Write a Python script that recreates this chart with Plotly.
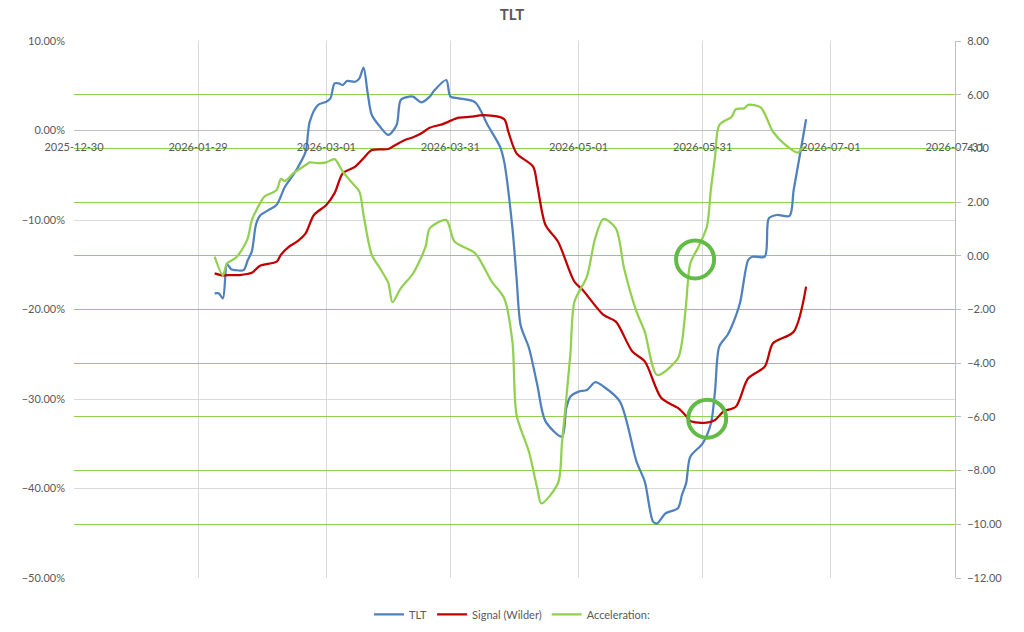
import plotly.graph_objects as go

# ---------------- data ----------------
tlt_dates = ["2026-02-02", "2026-02-03", "2026-02-04", "2026-02-05", "2026-02-06", "2026-02-07",
             "2026-02-09", "2026-02-10", "2026-02-11", "2026-02-12", "2026-02-13", "2026-02-15",
             "2026-02-17", "2026-02-19", "2026-02-21", "2026-02-22", "2026-02-24", "2026-02-25",
             "2026-02-27", "2026-03-01", "2026-03-02", "2026-03-03", "2026-03-04", "2026-03-05",
             "2026-03-06", "2026-03-08", "2026-03-09", "2026-03-10", "2026-03-11", "2026-03-12",
             "2026-03-14", "2026-03-16", "2026-03-18", "2026-03-19", "2026-03-21", "2026-03-22",
             "2026-03-24", "2026-03-26", "2026-03-27", "2026-03-30", "2026-03-31", "2026-04-02",
             "2026-04-06", "2026-04-09", "2026-04-12", "2026-04-13", "2026-04-15", "2026-04-16",
             "2026-04-17", "2026-04-19", "2026-04-21", "2026-04-23", "2026-04-27", "2026-04-28",
             "2026-04-29", "2026-05-01", "2026-05-03", "2026-05-05", "2026-05-07", "2026-05-11",
             "2026-05-15", "2026-05-17", "2026-05-19", "2026-05-20", "2026-05-22", "2026-05-25",
             "2026-05-26", "2026-05-27", "2026-05-28", "2026-05-31", "2026-06-02", "2026-06-03",
             "2026-06-04", "2026-06-06", "2026-06-07", "2026-06-09", "2026-06-11", "2026-06-12",
             "2026-06-15", "2026-06-16", "2026-06-18", "2026-06-21", "2026-06-22", "2026-06-24",
             "2026-06-25"]
tlt_values = [-18.2, -18.2, -18.75, -14.95, -15.5, -15.6,
              -15.6, -14.5, -13.5, -10.5, -9.5, -8.9,
              -8.3, -6.28, -4.97, -4.22, -2.36, 1.0,
              2.85, 3.22, 3.6, 5.27, 5.27, 5.08,
              5.53, 5.45, 5.83, 7.02, 4.2, 1.73,
              0.42, -0.5, 0.61, 3.41, 3.78, 3.78,
              3.15, 3.78, 4.41, 5.64, 3.78, 3.6,
              3.15, 0.61, -1.81, -3.48, -10.9, -16.5,
              -21.8, -24.3, -28.4, -32.5, -34.2, -31.04,
              -29.74, -29.18, -29.0, -28.13, -28.6, -30.3,
              -37.0, -39.24, -43.7, -43.9, -42.77, -42.2,
              -40.7, -39.4, -36.45, -34.95, -32.7, -29.0,
              -24.16, -22.85, -21.9, -19.3, -14.47, -14.1,
              -14.1, -9.8, -9.44, -9.55, -6.65, -1.43,
              1.25]

signal_dates = ["2026-02-02", "2026-02-04", "2026-02-05", "2026-02-08", "2026-02-11", "2026-02-13",
                "2026-02-17", "2026-02-18", "2026-02-20", "2026-02-22", "2026-02-24", "2026-02-26",
                "2026-03-01", "2026-03-03", "2026-03-05", "2026-03-08", "2026-03-10", "2026-03-12",
                "2026-03-16", "2026-03-17", "2026-03-20", "2026-03-22", "2026-03-24", "2026-03-26",
                "2026-03-29", "2026-04-01", "2026-04-02", "2026-04-05", "2026-04-08", "2026-04-13",
                "2026-04-14", "2026-04-16", "2026-04-20", "2026-04-21", "2026-04-23", "2026-04-26",
                "2026-04-30", "2026-05-02", "2026-05-07", "2026-05-10", "2026-05-14", "2026-05-17",
                "2026-05-21", "2026-05-25", "2026-05-27", "2026-05-28", "2026-06-01", "2026-06-03",
                "2026-06-05", "2026-06-08", "2026-06-11", "2026-06-15", "2026-06-17", "2026-06-22",
                "2026-06-25"]
signal_values = [-15.96, -16.2, -16.15, -16.15, -15.9, -15.1,
                 -14.66, -13.9, -12.98, -12.4, -11.5, -9.44,
                 -8.32, -7.0, -4.78, -4.04, -3.1, -2.18,
                 -2.07, -1.81, -1.06, -0.76, -0.31, 0.31,
                 0.69, 1.28, 1.43, 1.54, 1.73, 1.28,
                 -0.13, -2.55, -4.04, -6.09, -10.56, -12.4,
                 -16.9, -17.82, -20.6, -21.36, -24.7, -25.8,
                 -29.9, -31.0, -31.9, -32.46, -32.65, -32.35,
                 -31.4, -30.86, -27.69, -26.39, -23.78, -22.48,
                 -17.45]

accel_dates = ["2026-02-02", "2026-02-04", "2026-02-05", "2026-02-07", "2026-02-08", "2026-02-10",
               "2026-02-11", "2026-02-13", "2026-02-14", "2026-02-17", "2026-02-18", "2026-02-19",
               "2026-02-21", "2026-02-24", "2026-02-25", "2026-02-27", "2026-03-01", "2026-03-03",
               "2026-03-05", "2026-03-07", "2026-03-09", "2026-03-10", "2026-03-12", "2026-03-14",
               "2026-03-16", "2026-03-17", "2026-03-19", "2026-03-22", "2026-03-25", "2026-03-26",
               "2026-03-30", "2026-04-01", "2026-04-06", "2026-04-10", "2026-04-13", "2026-04-15",
               "2026-04-16", "2026-04-19", "2026-04-21", "2026-04-22", "2026-04-26", "2026-04-27",
               "2026-04-29", "2026-04-30", "2026-05-03", "2026-05-05", "2026-05-07", "2026-05-10",
               "2026-05-12", "2026-05-15", "2026-05-17", "2026-05-20", "2026-05-25", "2026-05-26",
               "2026-05-27", "2026-05-28", "2026-05-30", "2026-06-01", "2026-06-02", "2026-06-03",
               "2026-06-04", "2026-06-07", "2026-06-08", "2026-06-10", "2026-06-11", "2026-06-14",
               "2026-06-17", "2026-06-20", "2026-06-23", "2026-06-24", "2026-06-25"]
accel_values = [-0.03, -0.72, -0.28, -0.09, 0.09, 0.65,
                1.33, 1.96, 2.2, 2.45, 2.86, 2.79,
                3.07, 3.38, 3.48, 3.45, 3.48, 3.6,
                3.13, 2.76, 2.39, 1.52, 0.03, -0.47,
                -1.02, -1.73, -1.21, -0.65, 0.34, 1.02,
                1.33, 0.53, 0.09, -0.96, -1.58, -3.2,
                -5.93, -7.3, -8.66, -9.22, -8.47, -6.92,
                -3.69, -1.71, -0.78, 0.65, 1.37, 1.02,
                -0.47, -2.08, -2.83, -4.44, -3.82, -3.2,
                -1.77, -0.28, 0.34, 1.08, 2.5, 3.69,
                4.87, 5.18, 5.46, 5.49, 5.62, 5.53,
                4.62, 4.13, 3.84, 4.0, 4.06]

x_ticks = ["2025-12-30", "2026-01-29", "2026-03-01", "2026-03-31",
           "2026-05-01", "2026-05-31", "2026-07-01", "2026-07-31"]

# ---------------- figure ----------------
FONT = "Lato"
GRAY = "#595959"

fig = go.Figure()
fig.add_trace(go.Scatter(x=tlt_dates, y=tlt_values, name="TLT", mode="lines",
                         line=dict(color="#4F81BD", width=2.25, shape="spline", smoothing=0.8)))
fig.add_trace(go.Scatter(x=signal_dates, y=signal_values, name="Signal (Wilder)", mode="lines",
                         line=dict(color="#C00000", width=2.25, shape="spline", smoothing=0.8)))
fig.add_trace(go.Scatter(x=accel_dates, y=accel_values, name="Acceleration:", mode="lines",
                         yaxis="y2",
                         line=dict(color="#92D050", width=2.25, shape="spline", smoothing=0.8)))

# highlight circles
circle_color = "#62BB46"
fig.add_shape(type="circle", xref="x", yref="y", xsizemode="pixel", ysizemode="pixel",
              xanchor="2026-05-29 04:00", yanchor=-14.4,
              x0=-19, x1=19, y0=-19, y1=19,
              line=dict(color=circle_color, width=4))
fig.add_shape(type="circle", xref="x", yref="y", xsizemode="pixel", ysizemode="pixel",
              xanchor="2026-06-01 02:00", yanchor=-32.2,
              x0=-19, x1=19, y0=-19, y1=19,
              line=dict(color=circle_color, width=4))

fig.update_layout(
    width=1024, height=632,
    margin=dict(l=74, r=69, t=41, b=54, autoexpand=False),
    paper_bgcolor="white", plot_bgcolor="white",
    font=dict(family=FONT, size=11, color=GRAY),
    title=dict(text="<b>TLT</b>", x=0.5, xref="container", y=0.977, yanchor="middle",
               font=dict(family=FONT, size=15, color=GRAY)),
    showlegend=True,
    legend=dict(orientation="h", x=0.5, xanchor="center", xref="container",
                y=0.028, yanchor="middle", yref="container",
                font=dict(family=FONT, size=11, color=GRAY), itemwidth=30),
    xaxis=dict(type="date", range=["2025-12-30", "2026-07-31"],
               tickvals=x_ticks, ticktext=x_ticks, automargin=False,
               anchor="free", position=5 / 6, side="bottom",
               showgrid=True, gridcolor="#D9D9D9", gridwidth=1,
               showline=False, zeroline=False, ticks="", ticklabelstandoff=8,
               tickfont=dict(family=FONT, size=11, color=GRAY)),
    yaxis=dict(range=[-50, 10], dtick=10, tick0=0, tickformat=".2f", ticksuffix="%",
               automargin=False,
               showgrid=True, gridcolor="#D9D9D9", gridwidth=1,
               zeroline=True, zerolinecolor="#BFBFBF", zerolinewidth=1,
               showline=False, ticks="", ticklabelstandoff=8,
               tickfont=dict(family=FONT, size=11, color=GRAY)),
    yaxis2=dict(range=[-12, 8], dtick=2, tick0=0, tickformat=".2f",
                overlaying="y", side="right", automargin=False,
                showgrid=True, gridcolor="#92D050", gridwidth=1,
                zeroline=False, showline=True, linecolor="#BFBFBF", linewidth=1,
                ticks="outside", ticklen=5, tickcolor="#BFBFBF", ticklabelstandoff=4,
                tickfont=dict(family=FONT, size=11, color=GRAY)),
)

fig.write_html("out.html")
